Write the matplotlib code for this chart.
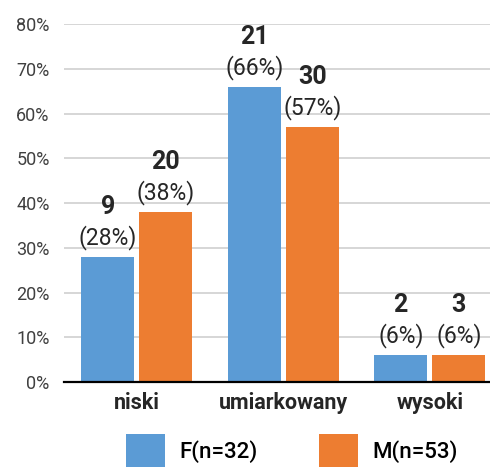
import numpy as np
import matplotlib.pyplot as plt

plt.rcParams['font.family'] = ['Roboto', 'DejaVu Sans']

# Poziom wg płci
categories = ['niski', 'umiarkowany', 'wysoki']
series_names = ['F(n=32)', 'M(n=53)']
counts_f = [9, 21, 2]
counts_m = [20, 30, 3]
pct_f = [28, 66, 6]
pct_m = [38, 57, 6]
colors = ['#5B9BD5', '#ED7D31']

fig = plt.figure(figsize=(4.9, 4.67), dpi=100)
ax = fig.add_axes([0.1296, 0.182, 0.897, 0.7666])

x = np.arange(len(categories))
width = 0.362
offset = 0.198

handles = []
for sign, counts, pcts, color, name in [(-1, counts_f, pct_f, colors[0], series_names[0]),
                                        (1, counts_m, pct_m, colors[1], series_names[1])]:
    vals = np.array(pcts) / 100
    bars = ax.bar(x + sign * offset, vals, width, color=color, label=name, zorder=2)
    handles.append(bars)
    for b, c, p in zip(bars, counts, pcts):
        cx = b.get_x() + b.get_width() / 2
        top = b.get_height()
        ax.annotate(f'({p}%)', (cx, top), xytext=(0, 5), textcoords='offset points',
                    ha='center', va='bottom', fontsize=16.5, color='#262626')
        ax.annotate(f'{c}', (cx, top), xytext=(0, 31), textcoords='offset points',
                    ha='center', va='baseline', fontsize=18, fontweight='bold',
                    color='#262626')

ax.set_xlim(-0.5, 2.5)
ax.set_ylim(0, 0.8)
ax.set_yticks(np.arange(0, 0.81, 0.1))
ax.set_yticklabels([f'{int(round(v * 100))}%' for v in np.arange(0, 0.81, 0.1)])
ax.set_xticks(x)
ax.set_xticklabels(categories, fontsize=15.5, fontweight='bold', color='#262626')
ax.tick_params(axis='y', length=0, pad=10, labelsize=13, labelcolor='#404040')
ax.tick_params(axis='x', length=0, pad=7)
ax.yaxis.grid(True, color='#d0d0d0', linewidth=1.2, zorder=0)
ax.set_axisbelow(True)
for s in ['left', 'right', 'top']:
    ax.spines[s].set_visible(False)
ax.spines['bottom'].set_color('black')
ax.spines['bottom'].set_linewidth(1.6)
ax.spines['bottom'].set_zorder(3)

fig.legend(handles=handles, loc='center', bbox_to_anchor=(0.596, 0.035), ncol=2,
           frameon=False, handlelength=1.76, handleheight=1.95,
           handletextpad=0.65, columnspacing=2.75, borderpad=0,
           prop={'size': 16, 'weight': 'medium'})

fig.savefig('out.png', dpi=100)
